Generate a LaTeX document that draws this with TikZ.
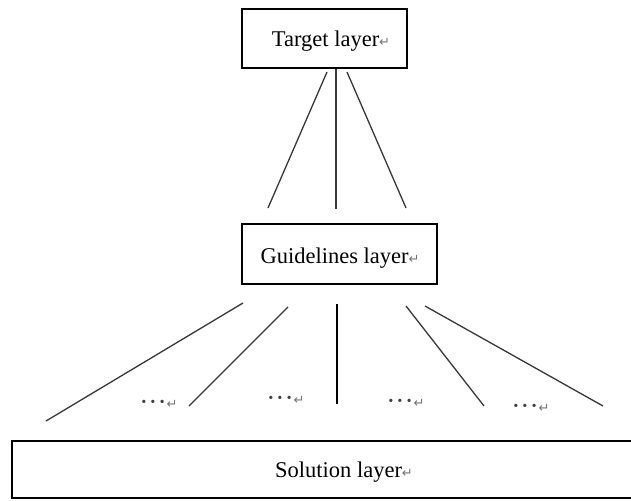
\documentclass[tikz,border=0pt]{standalone}
\usepackage{fontspec}
\setmainfont{Liberation Serif}
\newfontfamily\symfont{DejaVu Sans}
\newcommand{\pmark}{{\symfont\fontsize{13}{13}\selectfont\textcolor{black!55}{↵}}}
\newcommand{\tridots}{\textbf{·\hspace{2.5pt}·\hspace{2.5pt}·}\hspace{1pt}}
\begin{document}
\begin{tikzpicture}[x=1pt,y=-1pt,
  layerbox/.style={draw=black,line width=1.4pt,rectangle,inner sep=0pt},
  lbl/.style={anchor=base,inner sep=0pt,font=\fontsize{22.5}{24}\selectfont},
  dotlbl/.style={anchor=base,inner sep=0pt,font=\fontsize{20}{22}\selectfont,text=black!75},
  link/.style={draw=black!78,line width=1.3pt}]
\useasboundingbox (0,0) rectangle (631,500);
\fill[white] (0,0) rectangle (631,500);
% boxes
\node[layerbox,minimum width=165pt,minimum height=59pt] (target) at (324.5,38.5) {};
\node[layerbox,minimum width=195pt,minimum height=60pt] (guide) at (339.5,254) {};
\node[layerbox,minimum width=640pt,minimum height=57pt] (sol) at (332,469.5) {};
% labels
\node[lbl] (ttxt) at (331,47) {Target layer\pmark};
\node[lbl] (gtxt) at (340,263) {Guidelines layer\pmark};
\node[lbl] (stxt) at (344,477) {Solution layer\pmark};
% upper connectors
\coordinate (t1) at (327,72);  \coordinate (g1) at (268,208);
\coordinate (t2) at (336,69);  \coordinate (g2) at (336,209);
\coordinate (t3) at (347,72);  \coordinate (g3) at (406,208);
\draw[link] (t1) -- (g1);
\draw[link] (t2) -- (g2);
\draw[link] (t3) -- (g3);
% lower connectors
\coordinate (a1) at (243,303); \coordinate (b1) at (46,421);
\coordinate (a2) at (288,307); \coordinate (b2) at (189,406);
\coordinate (a3) at (337,304); \coordinate (b3) at (337,404);
\coordinate (a4) at (406,306); \coordinate (b4) at (484,406);
\coordinate (a5) at (425,306); \coordinate (b5) at (603,406);
\draw[link] (a1) -- (b1);
\draw[link] (a2) -- (b2);
\draw[link,draw=black] (a3) -- (b3);
\draw[link] (a4) -- (b4);
\draw[link] (a5) -- (b5);
% ellipsis labels
\node[dotlbl] (d1) at (159,408) {\tridots\pmark};
\node[dotlbl] (d2) at (286,404) {\tridots\pmark};
\node[dotlbl] (d3) at (406,407) {\tridots\pmark};
\node[dotlbl] (d4) at (531,412) {\tridots\pmark};
\end{tikzpicture}
\end{document}
